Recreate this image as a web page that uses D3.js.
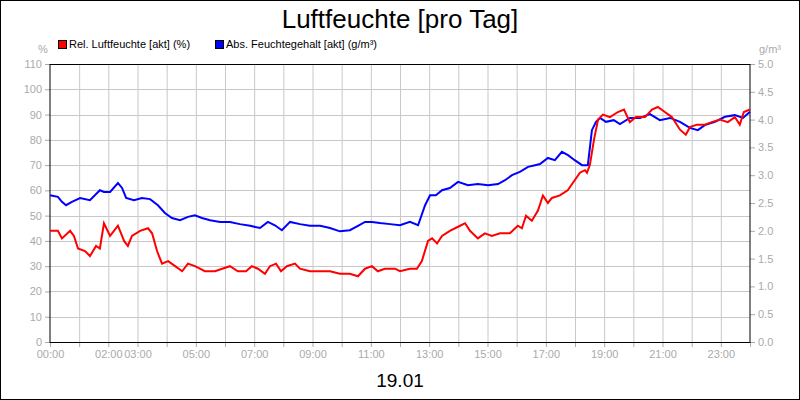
<!DOCTYPE html>
<html><head><meta charset="utf-8">
<script src="https://cdn.jsdelivr.net/npm/d3@7"></script>
<style>body{margin:0;background:#fff}text{font-family:Arial,"Liberation Sans",sans-serif}</style>
</head><body><svg id="c" width="800" height="400"></svg>
<script>
const title = "Luftfeuchte [pro Tag]";
const dateLabel = "19.01";
const seriesNames = ["Rel. Luftfeuchte [akt] (%)", "Abs. Feuchtegehalt [akt] (g/m³)"];
const xTickHours = [0,2,3,5,7,9,11,13,15,17,19,21,23];
const leftTicks = [0,10,20,30,40,50,60,70,80,90,100,110];
const rightTicks = [0,0.5,1,1.5,2,2.5,3,3.5,4,4.5,5];
const relData = [[0,44],[.27,44],[.41,41],[.69,44],[.82,42],[.96,37],[1.2,36],[1.37,34],[1.58,38],[1.71,37],[1.85,47],[2.06,42],[2.33,46],[2.54,40],[2.67,38],[2.81,42],[3.09,44],[3.36,45],[3.5,43],[3.67,36],[3.84,31],[4.05,32],[4.29,30],[4.53,28],[4.73,31],[4.97,30],[5.14,29],[5.31,28],[5.66,28],[5.9,29],[6.17,30],[6.44,28],[6.72,28],[6.92,30],[7.13,29],[7.37,27],[7.54,30],[7.75,31],[7.92,28],[8.12,30],[8.4,31],[8.57,29],[8.91,28],[9.26,28],[9.6,28],[9.94,27],[10.28,27],[10.56,26],[10.8,29],[11.04,30],[11.24,28],[11.48,29],[11.83,29],[12,28],[12.34,29],[12.58,29],[12.75,32],[12.96,40],[13.1,41],[13.27,39],[13.44,42],[13.71,44],[14.06,46],[14.23,47],[14.4,44],[14.67,41],[14.91,43],[15.15,42],[15.43,43],[15.77,43],[16.04,46],[16.18,45],[16.32,50],[16.52,48],[16.73,52],[16.9,58],[17.07,55],[17.21,57],[17.48,58],[17.75,60],[17.99,64],[18.17,67],[18.34,68],[18.41,67],[18.51,70],[18.65,80],[18.79,88],[18.96,90],[19.2,89],[19.47,91],[19.68,92],[19.88,87],[20.09,89],[20.4,89],[20.64,92],[20.84,93],[21.08,91],[21.32,89],[21.6,84],[21.8,82],[21.94,85],[22.18,86],[22.45,86],[22.69,87],[22.97,88],[23.24,87],[23.48,89],[23.65,86],[23.79,91],[24,92]];
const absData = [[0,2.64],[.27,2.61],[.41,2.52],[.55,2.46],[.75,2.52],[1.03,2.59],[1.37,2.55],[1.71,2.73],[1.85,2.70],[2.06,2.70],[2.33,2.86],[2.47,2.77],[2.61,2.59],[2.88,2.55],[3.15,2.59],[3.43,2.57],[3.7,2.46],[3.94,2.32],[4.18,2.23],[4.46,2.19],[4.73,2.25],[4.97,2.28],[5.21,2.23],[5.49,2.19],[5.83,2.16],[6.17,2.16],[6.51,2.12],[6.86,2.09],[7.2,2.05],[7.47,2.16],[7.71,2.10],[7.95,2.01],[8.23,2.16],[8.57,2.12],[8.91,2.09],[9.26,2.09],[9.6,2.05],[9.94,1.99],[10.28,2.01],[10.56,2.09],[10.8,2.16],[11.04,2.16],[11.31,2.14],[11.66,2.12],[12,2.10],[12.34,2.16],[12.62,2.10],[12.86,2.46],[13.03,2.64],[13.23,2.64],[13.44,2.73],[13.71,2.77],[13.99,2.88],[14.33,2.82],[14.67,2.84],[15.02,2.82],[15.36,2.84],[15.6,2.91],[15.84,3.00],[16.11,3.06],[16.39,3.15],[16.63,3.18],[16.8,3.20],[17.07,3.31],[17.31,3.27],[17.55,3.42],[17.76,3.36],[17.99,3.27],[18.24,3.18],[18.44,3.18],[18.58,3.81],[18.72,3.96],[18.86,4.03],[19.06,3.96],[19.33,3.99],[19.54,3.92],[19.88,4.03],[20.23,4.03],[20.57,4.10],[20.91,3.99],[21.26,4.03],[21.6,3.96],[21.94,3.85],[22.21,3.81],[22.45,3.90],[22.8,3.96],[23.14,4.05],[23.48,4.08],[23.76,4.03],[24,4.14]];

const svg = d3.select("#c");
const L=50,R=750,T=64,B=342;
svg.append("rect").attr("x",0.5).attr("y",0.5).attr("width",799).attr("height",399).attr("fill","#fff").attr("stroke","#000");
const x = d3.scaleLinear().domain([0,24]).range([L,R]);
const yl = d3.scaleLinear().domain([0,110]).range([B,T]);
const yr = d3.scaleLinear().domain([0,5]).range([B,T]);
const g = svg.append("g");
g.selectAll(".vg").data(d3.range(1,24)).join("line").attr("x1",d=>x(d)+.5).attr("x2",d=>x(d)+.5).attr("y1",T).attr("y2",B).attr("stroke","#c8c8c8");
g.selectAll(".hg").data(leftTicks.slice(1,-1)).join("line").attr("y1",d=>Math.round(yl(d))+.5).attr("y2",d=>Math.round(yl(d))+.5).attr("x1",L).attr("x2",R).attr("stroke","#c8c8c8");
const gray="#aaa";
function style(a){a.select(".domain").remove();a.selectAll("line").attr("stroke",gray);a.selectAll("text").attr("fill",gray).style("font-size","11px");}
svg.append("g").attr("transform",`translate(${L},0)`).call(d3.axisLeft(yl).tickValues(leftTicks).tickSize(5).tickPadding(3)).call(style);
svg.append("g").attr("transform",`translate(${R},0)`).call(d3.axisRight(yr).tickValues(rightTicks).tickFormat(d3.format(".1f")).tickSize(5).tickPadding(3)).call(style);
svg.append("g").attr("transform",`translate(0,${B})`).call(d3.axisBottom(x).tickValues(d3.range(0,25)).tickSize(5).tickPadding(3).tickFormat(d=>xTickHours.includes(d)?String(d).padStart(2,"0")+":00":"")).call(style);
svg.append("rect").attr("x",L).attr("y",T+.5).attr("width",R-L).attr("height",B-T).attr("fill","none").attr("stroke","#000");
const lr = d3.line().x(d=>x(d[0])).y(d=>yl(d[1]));
const la = d3.line().x(d=>x(d[0])).y(d=>yr(d[1]));
svg.append("path").attr("d",la(absData)).attr("fill","none").attr("stroke","#0000ff").attr("stroke-width",2);
svg.append("path").attr("d",lr(relData)).attr("fill","none").attr("stroke","#ff0000").attr("stroke-width",2);
svg.append("text").attr("x",400).attr("y",28).attr("text-anchor","middle").style("font-size","26px").text(title);
svg.append("text").attr("x",400).attr("y",387).attr("text-anchor","middle").style("font-size","19px").text(dateLabel);
svg.append("text").attr("x",38).attr("y",53).attr("fill",gray).style("font-size","11px").text("%");
svg.append("text").attr("x",770).attr("y",53).attr("text-anchor","middle").attr("fill",gray).style("font-size","11px").text("g/m³");
const lg=[[58,"#ff0000"],[215,"#0000ff"]];
lg.forEach((p,i)=>{
 svg.append("rect").attr("x",p[0]+.5).attr("y",40.5).attr("width",8).attr("height",8).attr("fill",p[1]).attr("stroke","#000");
 svg.append("text").attr("x",p[0]+11).attr("y",48).style("font-size","11px").text(seriesNames[i]);
});
</script></body></html>
